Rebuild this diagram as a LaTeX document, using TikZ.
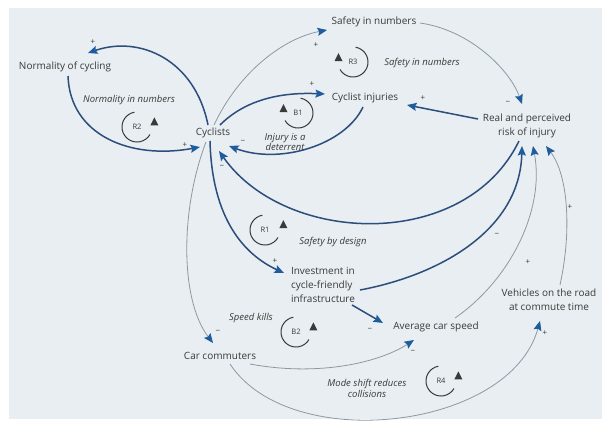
\documentclass[tikz,border=0pt]{standalone}
\usepackage{fontspec}
\setmainfont{Open Sans}
\usetikzlibrary{arrows.meta,calc}
\definecolor{bg}{HTML}{E8EEF1}
\definecolor{navy}{HTML}{2C4E7C}
\definecolor{tipblue}{HTML}{1F5C9E}
\definecolor{greyline}{HTML}{8C99A5}
\definecolor{txt}{HTML}{3A3A3A}
\tikzset{
  var/.style={font=\fontsize{10}{14}\selectfont, text=txt, inner sep=1pt},
  strong/.style={draw=navy, line width=1.5pt, -{Stealth[length=9.5pt,width=8pt,inset=1.5pt,color=tipblue]}},
  weak/.style={draw=greyline, line width=0.8pt, -{Stealth[length=9.5pt,width=8pt,inset=1.5pt,color=tipblue]}},
  pol/.style={font=\fontsize{8}{8}\selectfont, text=txt, inner sep=0pt},
  loopname/.style={font=\itshape\fontsize{9.5}{12}\selectfont, text=txt, align=center, inner sep=1pt},
  looplbl/.style={font=\fontsize{7.5}{8}\selectfont, text=txt, inner sep=0pt},
  loopcirc/.style={draw=txt, line width=1pt},
  looptip/.style={fill=txt}
}
\begin{document}
\begin{tikzpicture}[x=1pt,y=-1pt]
\useasboundingbox (0,0) rectangle (603,426);
\fill[white] (0,0) rectangle (603,426);
\fill[bg] (9,8) rectangle (602,419);

% variables
\node[var] (norm) at (65,67) {Normality of cycling};
\node[var] (sin) at (374,22) {Safety in numbers};
\node[var] (inj) at (365,98) {Cyclist injuries};
\node[var] (cyc) at (213,133) {Cyclists};
\node[var, align=center] (risk) at (527,126) {Real and perceived\\risk of injury};
\node[var, align=left] (inv) at (323,285) {Investment in\\cycle-friendly\\infrastructure};
\node[var] (avg) at (436,327) {Average car speed};
\node[var, align=center] (veh) at (549,300) {Vehicles on the road\\at commute time};
\node[var] (carc) at (220,356) {Car commuters};

% connectors
\draw[strong] ([shift={(-5,-8)}]cyc.center) .. controls (195,60) and (140,35) .. ([shift={(23,-14)}]norm.center);
\draw[strong] ([shift={(3,9)}]norm.center) .. controls (70,135) and (130,160) .. ([shift={(-13,14)}]cyc.center);
\draw[weak] ([shift={(1,-8)}]cyc.center) .. controls (240,70) and (285,38) .. ([shift={(-47,8)}]sin.center);
\draw[weak] ([shift={(46,1)}]sin.center) .. controls (470,30) and (510,70) .. ([shift={(-5,-22)}]risk.center);
\draw[strong] ([shift={(7,-8)}]cyc.center) .. controls (245,100) and (280,92) .. ([shift={(-40,-4)}]inj.center);
\draw[strong] ([shift={(-2,9)}]inj.center) .. controls (345,145) and (280,165) .. ([shift={(16,13)}]cyc.center);
\draw[strong] ([shift={(-49,-7)}]risk.center) -- ([shift={(42,7)}]inj.center);
\draw[strong] ([shift={(-8,15)}]risk.center) .. controls (465,252) and (285,245) .. ([shift={(6,18)}]cyc.center);
\draw[strong] ([shift={(-3,8)}]cyc.center) .. controls (212,220) and (245,255) .. ([shift={(-39,-12)}]inv.center);
\draw[strong] ([shift={(37,5)}]inv.center) .. controls (440,275) and (520,230) .. ([shift={(-5,20)}]risk.center);
\draw[strong] ([shift={(29,20)}]inv.center) -- ([shift={(-53,-4)}]avg.center);
\draw[weak] ([shift={(19,-9)}]avg.center) .. controls (510,280) and (545,210) .. ([shift={(6,20)}]risk.center);
\draw[weak] ([shift={(11,-15)}]veh.center) .. controls (572,230) and (568,175) .. ([shift={(19,20)}]risk.center);
\draw[weak] ([shift={(-7,9)}]cyc.center) .. controls (180,210) and (180,300) .. ([shift={(-7,-13)}]carc.center);
\draw[weak] ([shift={(30,8)}]carc.center) .. controls (320,377) and (380,362) .. ([shift={(-22,13)}]avg.center);
\draw[weak] ([shift={(10,8)}]carc.center) .. controls (290,455) and (510,430) .. ([shift={(-9,21)}]veh.center);

% polarities
\node[pol] (p1) at (93,42) {+};
\node[pol] (p2) at (185,145) {+};
\node[pol] (p3) at (316,45) {+};
\node[pol] (p4) at (508,103) {−};
\node[pol] (p5) at (312,84) {+};
\node[pol] (p6) at (243,142) {−};
\node[pol] (p7) at (423,98) {+};
\node[pol] (p8) at (222,167) {−};
\node[pol] (p9) at (275,261) {+};
\node[pol] (p10) at (497,235) {−};
\node[pol] (p11) at (370,330) {−};
\node[pol] (p12) at (528,262) {+};
\node[pol] (p13) at (570,207) {+};
\node[pol] (p14) at (218,332) {−};
\node[pol] (p15) at (413,352) {−};
\node[pol] (p16) at (545,333) {+};

% loops: arc on the left, triangle on the right
\node[looplbl] (r2) at (137,127) {R2};
\draw[loopcirc] ([shift={(-100:15)}]r2.center) arc[start angle=-100, end angle=-330, radius=15];
\fill[looptip] ([shift={(-15:18)}]r2.center) ++(0,-5) -- ++(4,8) -- ++(-8,0) -- cycle;
\node[loopname] (r2n) at (129,100) {Normality in numbers};

\node[looplbl] (r1) at (265,230) {R1};
\draw[loopcirc] ([shift={(-100:15)}]r1.center) arc[start angle=-100, end angle=-330, radius=15];
\fill[looptip] ([shift={(-15:19)}]r1.center) ++(0,-5) -- ++(4,8) -- ++(-8,0) -- cycle;
\node[loopname] (r1n) at (333,242) {Safety by design};

\node[looplbl] (b2) at (296,332) {B2};
\draw[loopcirc] ([shift={(-100:15)}]b2.center) arc[start angle=-100, end angle=-330, radius=15];
\fill[looptip] ([shift={(-15:18)}]b2.center) ++(0,-5) -- ++(4,8) -- ++(-8,0) -- cycle;
\node[loopname] (b2n) at (251,318) {Speed kills};

\node[looplbl] (r4) at (441,381) {R4};
\draw[loopcirc] ([shift={(-100:15)}]r4.center) arc[start angle=-100, end angle=-330, radius=15];
\fill[looptip] ([shift={(-15:18)}]r4.center) ++(0,-5) -- ++(4,8) -- ++(-8,0) -- cycle;
\node[loopname] (r4n) at (367,388) {Mode shift reduces\\[-1pt]collisions};

% loops: triangle on the left, arc on the right
\node[looplbl] (r3) at (353,62) {R3};
\draw[loopcirc] ([shift={(-80:15)}]r3.center) arc[start angle=-80, end angle=150, radius=15];
\fill[looptip] ([shift={(-165:15)}]r3.center) ++(0,-5) -- ++(4,8) -- ++(-8,0) -- cycle;
\node[loopname] (r3n) at (422,63) {Safety in numbers};

\node[looplbl] (b1) at (298,113) {B1};
\draw[loopcirc] ([shift={(-80:15)}]b1.center) arc[start angle=-80, end angle=150, radius=15];
\fill[looptip] ([shift={(-165:15)}]b1.center) ++(0,-5) -- ++(4,8) -- ++(-8,0) -- cycle;
\node[loopname] (b1n) at (285,142) {Injury is a\\[-2pt]deterrent};
\end{tikzpicture}
\end{document}
